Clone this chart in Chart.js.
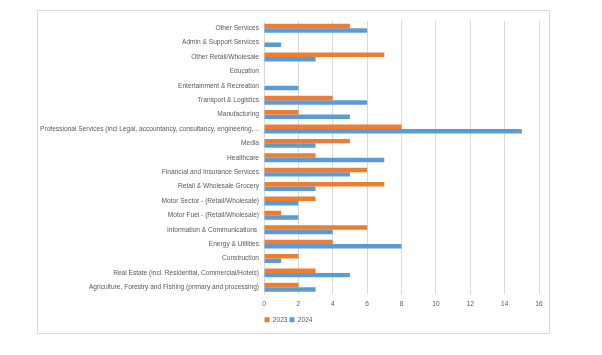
<!DOCTYPE html>
<html><head><meta charset="utf-8">
<script src="https://cdn.jsdelivr.net/npm/chart.js@4"></script>
<style>
html,body{margin:0;padding:0;background:#fff;}
#frame{position:absolute;left:37px;top:10px;width:511px;height:322px;border:1px solid #d9d9d9;background:#fff;}
canvas{display:block;}
</style></head><body>
<div id="frame"><canvas id="c" width="511" height="322"></canvas></div>
<script>
const categories = [
 "Other Services",
 "Admin & Support Services",
 "Other Retail/Wholesale",
 "Education",
 "Entertainment & Recreation",
 "Transport & Logistics",
 "Manufacturing",
 "Professional Services (incl Legal, accountancy, consultancy, engineering,...",
 "Media",
 "Healthcare",
 "Financial and Insurance Services",
 "Retail & Wholesale Grocery",
 "Motor Sector - (Retail/Wholesale)",
 "Motor Fuel - (Retail/Wholesale)",
 "Information & Communications ",
 "Energy & Utilities",
 "Construction",
 "Real Estate (incl. Residential, Commercial/Hotels)",
 "Agriculture, Forestry and Fishing (primary and processing)"
];
const values2023 = [5,0,7,0,0,4,2,8,5,3,6,7,3,1,6,4,2,3,2];
const values2024 = [6,1,3,0,2,6,5,15,3,7,5,3,2,2,4,8,1,5,3];
const seriesNames = ["2023","2024"];
const xTicks = [0,2,4,6,8,10,12,14,16];

const font = {family:"'Liberation Sans', sans-serif", size:6.6};
new Chart(document.getElementById('c'), {
  type:'bar',
  data:{
    labels:categories,
    datasets:[
      {label:seriesNames[0], data:values2023, backgroundColor:'#ED7D31', barPercentage:1, categoryPercentage:0.62},
      {label:seriesNames[1], data:values2024, backgroundColor:'#5B9BD5', barPercentage:1, categoryPercentage:0.62}
    ]
  },
  options:{
    indexAxis:'y',
    responsive:false,
    animation:false,
    layout:{padding:{left:0,right:10,top:10,bottom:0}},
    plugins:{
      legend:{position:'bottom', labels:{boxWidth:5, boxHeight:5, color:'#595959', font:font, padding:2}},
      tooltip:{enabled:false}
    },
    scales:{
      x:{
        min:0,max:16,
        afterBuildTicks:s=>{s.ticks = xTicks.map(v=>({value:v}));},
        grid:{color:'#d9d9d9', drawTicks:false},
        border:{display:false},
        ticks:{color:'#595959', font:font, padding:6}
      },
      y:{
        grid:{display:false, drawTicks:false},
        border:{color:'#d9d9d9'},
        ticks:{color:'#595959', font:font, padding:5, autoSkip:false},
        afterFit:s=>{s.width=226;}
      }
    }
  }
});
</script>
</body></html>
